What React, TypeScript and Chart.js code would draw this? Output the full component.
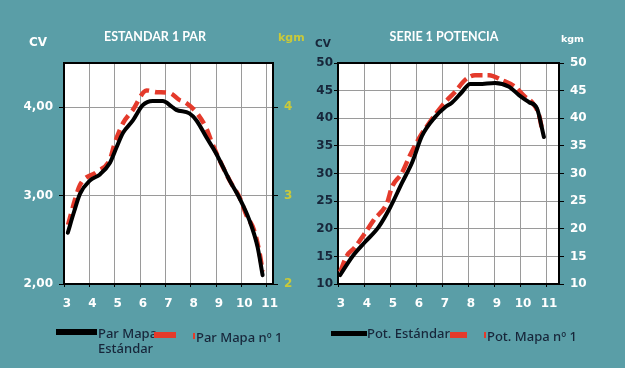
import { useEffect, useRef } from 'react';
import { Chart, registerables } from 'chart.js';
Chart.register(...registerables);

// ---- data: left chart (Par / torque) ----
const parStdRpm = [3.15, 3.4, 3.63, 4.02, 4.42, 4.81, 5.08, 5.33, 5.72, 6.1, 6.5, 6.9, 7.24, 7.43, 7.95, 8.23, 8.62, 9.0, 9.54, 9.93, 10.32, 10.64, 10.84];
const parStdVal = [2.58, 2.82, 3.02, 3.17, 3.24, 3.37, 3.55, 3.71, 3.85, 4.02, 4.07, 4.07, 4.01, 3.97, 3.93, 3.85, 3.66, 3.48, 3.17, 2.97, 2.72, 2.42, 2.1];
const parMapaRpm = [3.16, 3.43, 3.63, 4.3, 4.8, 5.0, 5.33, 5.72, 6.26, 6.66, 7.17, 7.57, 7.76, 8.23, 8.62, 8.88, 9.54, 9.93, 10.2, 10.5, 10.72, 10.84];
const parMapaVal = [2.67, 2.95, 3.12, 3.27, 3.4, 3.59, 3.82, 3.97, 4.19, 4.17, 4.16, 4.08, 4.06, 3.94, 3.76, 3.57, 3.17, 2.98, 2.78, 2.61, 2.35, 2.14];

// ---- data: right chart (Potencia / power) ----
const potStdRpm = [3.08, 3.54, 4.04, 4.56, 5.0, 5.46, 5.85, 6.23, 6.73, 7.12, 7.38, 7.77, 8.08, 8.42, 9.04, 9.58, 9.96, 10.35, 10.65, 10.92];
const potStdVal = [11.6, 14.9, 17.6, 20.3, 23.8, 28.3, 32.0, 36.8, 40.2, 42.0, 42.8, 44.75, 46.2, 46.2, 46.4, 45.7, 44.2, 42.9, 41.8, 36.6];
const potMapaRpm = [3.08, 3.35, 3.62, 4.04, 4.38, 4.88, 5.08, 5.46, 5.77, 6.12, 6.5, 7.12, 7.5, 7.88, 8.27, 8.81, 9.31, 9.81, 10.19, 10.46, 10.73, 10.85];
const potMapaVal = [12.2, 15.2, 16.5, 19.2, 21.6, 24.6, 27.6, 30.1, 33.3, 36.4, 39.1, 42.9, 44.75, 46.9, 47.8, 47.8, 46.9, 45.7, 43.9, 42.9, 40.6, 37.9];

const xTicksMin = 3;
const leftTitle = 'ESTANDAR 1 PAR';
const rightTitle = 'SERIE 1 POTENCIA';
const leftLegend = ['Par Mapa Estándar', 'Par Mapa nº 1'];
const rightLegend = ['Pot. Estándar', 'Pot. Mapa nº 1'];

const BG = '#5a9ea7';
const RED = '#e43a2b';
const BLACK = '#000000';
const YELLOW = '#c9c93a';
const DARK = '#17263a';
const GRID = '#9a9a9a';
const FONT = 'Lato, "Open Sans", sans-serif';
const TICKFONT = '"DejaVu Sans", sans-serif';

const zip = (xs: number[], ys: number[]) => xs.map((x, i) => ({ x, y: ys[i] }));

const framePlugin = {
  id: 'frame',
  beforeDraw(chart: any) {
    const { ctx, chartArea: a } = chart;
    ctx.save();
    ctx.fillStyle = '#ffffff';
    ctx.fillRect(a.left, a.top, a.right - a.left, a.bottom - a.top);
    ctx.restore();
  },
  beforeDatasetsDraw(chart: any) {
    const { ctx, chartArea: a } = chart;
    ctx.save();
    ctx.strokeStyle = '#000';
    ctx.lineWidth = 2;
    ctx.strokeRect(a.left, a.top, a.right - a.left, a.bottom - a.top);
    ctx.restore();
  },
};

const tickFont = { family: TICKFONT, weight: 'bold' as const, size: 12 };

function makeConfig(opts: any) {
  return {
    type: 'line' as const,
    data: {
      datasets: [
        {
          label: opts.labels[0],
          data: zip(opts.stdX, opts.stdY),
          borderColor: BLACK,
          borderWidth: 4,
          pointRadius: 0,
          cubicInterpolationMode: 'monotone' as const,
          borderJoinStyle: 'round' as const,
          borderCapStyle: 'round' as const,
        },
        {
          label: opts.labels[1],
          data: zip(opts.mapX, opts.mapY),
          borderColor: RED,
          borderWidth: 4.5,
          borderDash: opts.dash,
          pointRadius: 0,
          cubicInterpolationMode: 'monotone' as const,
        },
      ],
    },
    options: {
      animation: false as const,
      responsive: false,
      devicePixelRatio: 1,
      layout: { padding: { top: 63, left: 0, right: 0, bottom: 0 } },
      plugins: { legend: { display: false }, tooltip: { enabled: false }, title: { display: false } },
      scales: {
        x: {
          type: 'linear' as const,
          min: xTicksMin,
          max: opts.xMax,
          afterFit: (s: any) => { s.height = 84; },
          border: { display: false },
          grid: { color: GRID, tickColor: '#000', tickLength: 3, lineWidth: 1 },
          ticks: { stepSize: 1, includeBounds: false, color: '#fff', font: tickFont, padding: 10, labelOffset: 3, maxRotation: 0 },
        },
        y: {
          type: 'linear' as const,
          position: 'left' as const,
          min: opts.yMin,
          max: opts.yMax,
          afterFit: (s: any) => { s.width = opts.leftW; },
          border: { display: false },
          grid: { color: GRID, tickColor: '#000', tickLength: opts.leftTick, lineWidth: 1 },
          ticks: { stepSize: opts.step, includeBounds: false, color: opts.leftColor, font: tickFont, padding: opts.leftPad, callback: opts.leftFmt },
        },
        y2: {
          type: 'linear' as const,
          position: 'right' as const,
          min: opts.yMin,
          max: opts.yMax,
          afterFit: (s: any) => { s.width = opts.rightW; },
          border: { display: false },
          grid: { drawOnChartArea: false, tickColor: '#000', tickLength: 5 },
          ticks: { stepSize: opts.step, includeBounds: false, color: opts.rightColor, font: tickFont, padding: 6, callback: (v: any) => String(v) },
        },
      },
    },
    plugins: [framePlugin],
  };
}

function ChartCanvas({ config, left, width }: { config: any; left: number; width: number }) {
  const ref = useRef<HTMLCanvasElement | null>(null);
  useEffect(() => {
    if (!ref.current) return;
    const c = new Chart(ref.current, config);
    return () => c.destroy();
  }, []);
  return (
    <canvas
      ref={ref}
      width={width}
      height={368}
      style={{ position: 'absolute', left, top: 0, width, height: 368 }}
    />
  );
}

const abs = (s: any) => ({ position: 'absolute' as const, whiteSpace: 'nowrap' as const, ...s });

export default function App() {
  const leftCfg = makeConfig({
    labels: leftLegend,
    stdX: parStdRpm, stdY: parStdVal, mapX: parMapaRpm, mapY: parMapaVal,
    dash: [11, 6], xMax: 11.25, yMin: 2, yMax: 4.5, step: 1,
    leftW: 64, rightW: 39, leftTick: 5, leftPad: 6,
    leftColor: '#ffffff', rightColor: YELLOW,
    leftFmt: (v: any) => Number(v).toFixed(2).replace('.', ','),
  });
  const rightCfg = makeConfig({
    labels: rightLegend,
    stdX: potStdRpm, stdY: potStdVal, mapX: potMapaRpm, mapY: potMapaVal,
    dash: [12, 5], xMax: 11.5, yMin: 10, yMax: 50, step: 5,
    leftW: 26, rightW: 66, leftTick: 4, leftPad: 1,
    leftColor: DARK, rightColor: '#ffffff',
    leftFmt: (v: any) => String(v),
  });
  const lg = { fontFamily: '"Noto Sans", sans-serif', fontSize: 13, fontWeight: 500, color: DARK, lineHeight: '15px' };
  return (
    <div style={{ position: 'fixed', left: 0, top: 0, width: 625, height: 368, background: BG, overflow: 'hidden', fontFamily: FONT }}>
      <ChartCanvas config={leftCfg} left={0} width={312} />
      <ChartCanvas config={rightCfg} left={312} width={313} />
      {/* titles */}
      <div style={abs({ left: 55, width: 200, top: 29, textAlign: 'center', color: '#fff', fontWeight: 700, fontSize: 12.5 })}>{leftTitle}</div>
      <div style={abs({ left: 344, width: 200, top: 29, textAlign: 'center', color: '#fff', fontWeight: 700, fontSize: 12.5 })}>{rightTitle}</div>
      <div style={abs({ left: 29, top: 35, color: '#fff', fontWeight: 700, fontSize: 12, fontFamily: TICKFONT })}>CV</div>
      <div style={abs({ left: 278, top: 31, color: YELLOW, fontWeight: 700, fontSize: 11, fontFamily: TICKFONT })}>kgm</div>
      <div style={abs({ left: 315, top: 37, color: DARK, fontWeight: 700, fontSize: 10.5, fontFamily: TICKFONT })}>CV</div>
      <div style={abs({ left: 561, top: 33, color: '#fff', fontWeight: 700, fontSize: 9.5, fontFamily: TICKFONT })}>kgm</div>
      {/* left legend */}
      <div style={abs({ left: 56, top: 329, width: 41, height: 6, background: BLACK })} />
      <div style={abs({ ...lg, left: 98, top: 326 })}>Par Mapa<br />Estándar</div>
      <div style={abs({ left: 154, top: 332, width: 22, height: 6, background: RED })} />
      <div style={abs({ left: 193, top: 333, width: 2, height: 6, background: RED })} />
      <div style={abs({ ...lg, left: 196, top: 330 })}>Par Mapa nº 1</div>
      {/* right legend */}
      <div style={abs({ left: 331, top: 331, width: 36, height: 5, background: BLACK })} />
      <div style={abs({ ...lg, left: 367, top: 326 })}>Pot. Estándar</div>
      <div style={abs({ left: 450, top: 332, width: 17, height: 6, background: RED })} />
      <div style={abs({ left: 484, top: 332, width: 2, height: 6, background: RED })} />
      <div style={abs({ ...lg, left: 487, top: 329 })}>Pot. Mapa nº 1</div>
    </div>
  );
}
